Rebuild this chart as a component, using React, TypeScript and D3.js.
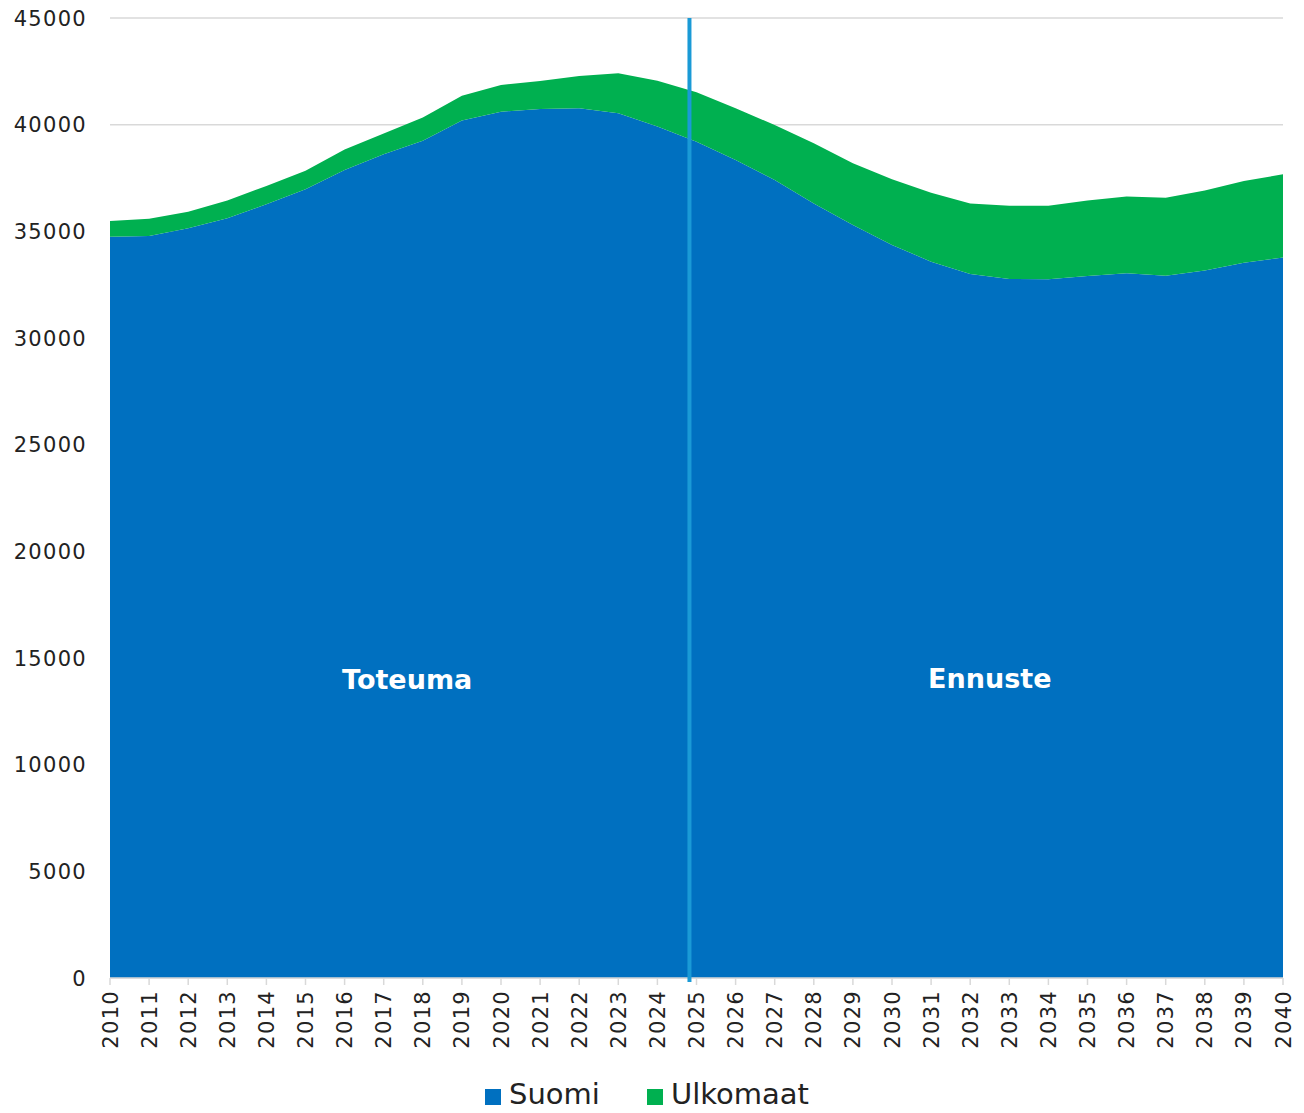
import React from "react";
import * as d3 from "d3";

// years on the x axis
const years = d3.range(2010, 2041);

// employed by origin
const suomi = [
  34750, 34780, 35140, 35610, 36270, 36970, 37880, 38610, 39250, 40190, 40610,
  40730, 40770, 40530, 39910, 39200, 38340, 37410, 36310, 35300, 34360, 33580,
  33000, 32770, 32750, 32910, 33030, 32920, 33160, 33530, 33770
];
const ulkomaat = [
  730, 810, 780, 830, 860, 870, 960, 980, 1090, 1170, 1250, 1320, 1510, 1880,
  2150, 2320, 2430, 2570, 2820, 2890, 3080, 3230, 3310, 3430, 3450, 3530, 3600,
  3660, 3750, 3830, 3900
];
const yTicks = [0, 5000, 10000, 15000, 20000, 25000, 30000, 35000, 40000, 45000];
const seriesKeys = ["Suomi", "Ulkomaat"];
const colors: Record<string, string> = { Suomi: "#0070c0", Ulkomaat: "#00b050" };

// divider between history and forecast
const dividerYear = 2024.82;
const labels = [
  { text: "Toteuma", year: 2017.6, value: 14000 },
  { text: "Ennuste", year: 2032.5, value: 14050 }
];

const W = 1304;
const H = 1113;
const margin = { top: 18, right: 21, bottom: 135, left: 110 };
const font = "'DejaVu Sans', sans-serif";

export default function App() {
  const table = years.map((y, i) => ({ year: y, Suomi: suomi[i], Ulkomaat: ulkomaat[i] }));

  const x = d3.scaleLinear().domain([2010, 2040]).range([margin.left, W - margin.right]);
  const y = d3.scaleLinear().domain([0, 45000]).range([H - margin.bottom, margin.top]);

  const layers = d3.stack<any>().keys(seriesKeys)(table);
  const area = d3
    .area<any>()
    .x((d) => x(d.data.year))
    .y0((d) => y(d[0]))
    .y1((d) => y(d[1]))
    .curve(d3.curveLinear);

  const y0 = y(0);

  return (
    <svg
      width={W}
      height={H}
      style={{ position: "absolute", left: 0, top: 0, background: "#fff" }}
      fontFamily={font}
    >
      {/* grid */}
      {yTicks.map((t) => (
        <line key={"g" + t} x1={x(2010)} x2={x(2040)} y1={y(t)} y2={y(t)} stroke="#d9d9d9" strokeWidth={1.5} />
      ))}
      {yTicks.map((t) => (
        <text
          key={"yl" + t}
          x={87}
          y={y(t)}
          dy="0.36em"
          textAnchor="end"
          fontSize={21}
          letterSpacing={1.3}
          fill="#222"
        >
          {t}
        </text>
      ))}

      {/* stacked areas */}
      {layers.map((layer) => (
        <path key={layer.key} d={area(layer) || ""} fill={colors[layer.key]} />
      ))}

      {/* x axis */}
      <line x1={x(2010)} x2={x(2040)} y1={y0} y2={y0} stroke="#d9d9d9" strokeWidth={1.5} />
      {years.map((yr) => (
        <g key={"xt" + yr}>
          <line x1={x(yr)} x2={x(yr)} y1={y0} y2={y0 + 7} stroke="#d9d9d9" strokeWidth={1.5} />
          <text
            transform={`translate(${x(yr)},${y0 + 12}) rotate(-90)`}
            textAnchor="end"
            dy="0.36em"
            fontSize={21}
            letterSpacing={1.3}
            fill="#222"
          >
            {yr}
          </text>
        </g>
      ))}

      {/* divider */}
      <line
        x1={x(dividerYear)}
        x2={x(dividerYear)}
        y1={y(45000)}
        y2={y0 + 4}
        stroke="#1a9ad6"
        strokeWidth={4}
      />

      {labels.map((l) => (
        <text
          key={l.text}
          x={x(l.year)}
          y={y(l.value)}
          dy="0.36em"
          textAnchor="middle"
          fontSize={27}
          fontWeight={900}
          fill="#fff"
        >
          {l.text}
        </text>
      ))}

      {/* legend */}
      <g fontSize={29} fill="#222">
        <rect x={485} y={1089} width={16} height={16} fill={colors.Suomi} />
        <text x={509} y={1104}>Suomi</text>
        <rect x={647} y={1089} width={16} height={16} fill={colors.Ulkomaat} />
        <text x={671} y={1104}>Ulkomaat</text>
      </g>
    </svg>
  );
}
